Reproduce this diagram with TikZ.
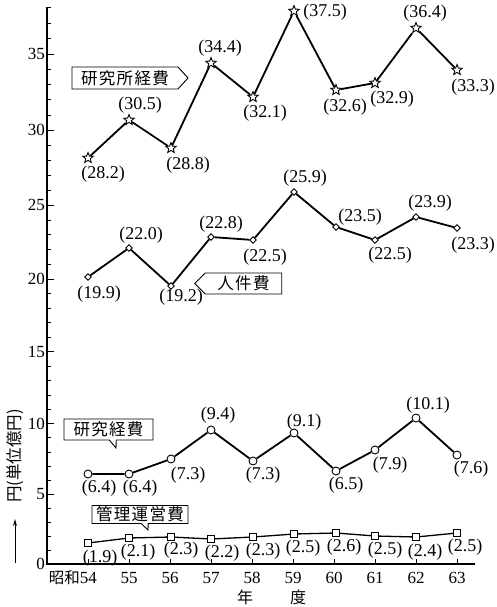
\documentclass[tikz,border=0pt]{standalone}
\usepackage{fontspec}
\setmainfont{Liberation Serif}
\newfontfamily\jp[LetterSpace=8]{Noto Sans CJK JP}
\newfontfamily\jpn{Noto Sans CJK JP}
\usetikzlibrary{shapes.geometric,shapes.symbols,shapes.callouts,arrows.meta}
\begin{document}
\begin{tikzpicture}[x=1pt,y=-1pt,
  declare function={ty(\v)=564-13.82*\v-0.0214*\v*\v;},
  axisline/.style={line width=1.3pt},
  series/.style={line width=1.8pt},
  thinseries/.style={line width=1.3pt},
  num/.style={font=\fontsize{18}{18}\selectfont, inner sep=0pt},
  ticknum/.style={font=\fontsize{17}{17}\selectfont, inner sep=0pt},
  starmark/.style={star, star points=5, star point ratio=2.3, minimum size=11pt, inner sep=0pt, draw, fill=white, line width=0.9pt},
  diamark/.style={diamond, minimum size=7pt, inner sep=0pt, draw, fill=white, line width=0.9pt},
  circmark/.style={circle, minimum size=8pt, inner sep=0pt, draw, fill=white, line width=0.9pt},
  sqmark/.style={rectangle, minimum size=7pt, inner sep=0pt, draw, fill=white, line width=0.9pt},
  tag/.style={draw, line width=0.9pt, inner sep=0pt, font=\fontsize{16.5}{16.5}\jp},
]
\useasboundingbox (0,0) rectangle (496,607);

% axes
\coordinate (ytop) at (47,7);
\coordinate (orig) at (47,564);
\coordinate (xend) at (475,564);
\draw[axisline] (ytop) -- (orig) -- (xend);
\foreach \v in {0,...,38} \draw[line width=0.9pt] (47,{ty(\v)}) -- ++(4,0);
\foreach \v in {0,5,...,35} {
  \draw[line width=1pt] (47,{ty(\v)}) -- ++(7,0);
  \node[ticknum, anchor=east] (yl\v) at (45,{ty(\v)}) {\v};
}
\foreach \i [evaluate=\i as \xx using 88+41.0*(\i-54)] in {54,...,63} {
  \draw[line width=0.9pt] (\xx,564) -- (\xx,559);
}
\foreach \i [evaluate=\i as \xx using 88+41.0*(\i-54)] in {55,...,63} {
  \node[ticknum] (xl\i) at (\xx,578) {\i};
}
\node[inner sep=0pt, anchor=east] (xl54) at (97,578) {\fontsize{15.5}{15.5}\jpn 昭和\fontsize{17}{17}\rmfamily 54};
\node[inner sep=0pt] (nen) at (245,597) {\fontsize{16}{16}\jpn 年};
\node[inner sep=0pt] (do) at (298,597) {\fontsize{16}{16}\jpn 度};

% y label
\coordinate (arrbot) at (15,563);
\coordinate (arrtop) at (15,519);
\draw[line width=1pt, -{Stealth[length=7pt,width=4pt]}] (arrbot) -- (arrtop);
\node[rotate=90, inner sep=0pt] (ylab) at (15,456) {\fontsize{16.5}{16.5}\jpn 円(単位億円)};

% series 1: stars
\foreach \n/\xx/\yy in {54/88/158,55/129/120,56/171/148,57/211/63,58/253/97,59/294/11,60/336/90,61/375/83,62/416/28,63/457/70}
  \node[starmark] (s\n) at (\xx,\yy) {};
\draw[series] (s54)--(s55)--(s56)--(s57)--(s58)--(s59)--(s60)--(s61)--(s62)--(s63);
\foreach \n/\xx/\yy/\t in {54/103/174/28.2,55/140/105/30.5,56/188/165/28.8,57/220/48/34.4,58/265/113/32.1,59/325/12/37.5,60/345/107/32.6,61/392/99/32.9,62/425/13/36.4,63/473/87/33.3}
  \node[num] (ls\n) at (\xx,\yy) {(\t)};

% series 2: diamonds
\foreach \n/\xx/\yy in {54/88/277,55/129/248,56/171/286,57/211/237,58/253/240,59/294/192,60/336/227,61/375/240,62/416/217,63/457/228}
  \node[diamark] (d\n) at (\xx,\yy) {};
\draw[series] (d54)--(d55)--(d56)--(d57)--(d58)--(d59)--(d60)--(d61)--(d62)--(d63);
\foreach \n/\xx/\yy/\t in {54/99/294/19.9,55/141/235/22.0,56/181/297/19.2,57/221/224/22.8,58/265/257/22.5,59/305/178/25.9,60/360/217/23.5,61/390/255/22.5,62/430/203/23.9,63/473/245/23.3}
  \node[num] (ld\n) at (\xx,\yy) {(\t)};

% series 3: circles
\foreach \n/\xx/\yy in {54/88/474,55/129/474,56/171/459,57/211/430,58/253/461,59/294/433,60/336/471,61/375/450,62/416/418,63/457/455}
  \node[circmark] (c\n) at (\xx,\yy) {};
\draw[series] (c54)--(c55)--(c56)--(c57)--(c58)--(c59)--(c60)--(c61)--(c62)--(c63);
\foreach \n/\xx/\yy/\t in {54/99/488/6.4,55/140/488/6.4,56/188/475/7.3,57/218/415/9.4,58/263/475/7.3,59/304/422/9.1,60/346/485/6.5,61/390/465/7.9,62/428/405/10.1,63/471/469/7.6}
  \node[num] (lc\n) at (\xx,\yy) {(\t)};

% series 4: squares
\foreach \n/\xx/\yy in {54/88/543,55/129/538,56/171/537,57/211/539,58/253/537,59/294/534,60/336/533,61/375/536,62/416/537,63/457/533}
  \node[sqmark] (q\n) at (\xx,\yy) {};
\draw[thinseries] (q54)--(q55)--(q56)--(q57)--(q58)--(q59)--(q60)--(q61)--(q62)--(q63);
\foreach \n/\xx/\yy/\t in {54/100/558/1.9,55/138/552/2.1,56/181/550/2.3,57/222/553/2.2,58/263/551/2.3,59/303/548/2.5,60/344/547/2.6,61/385/550/2.5,62/425/552/2.4,63/465/547/2.5}
  \node[num] (lq\n) at (\xx,\yy) {(\t)};

% tags
\node[tag, signal, signal to=east, signal pointer angle=95, minimum width=116pt, minimum height=22pt] (t1) at (125,78) {研究所経費};
\node[tag, signal, signal to=west, signal pointer angle=90, minimum width=87pt, minimum height=21pt] (t2) at (243.5,283.5) {人件費};
\node[tag, rectangle callout, callout absolute pointer={(116,448)}, callout pointer width=7pt, minimum width=89pt, minimum height=21pt] (t3) at (108.5,429.5) {研究経費};
\node[tag, rectangle callout, callout absolute pointer={(148,530)}, callout pointer width=7pt, minimum width=96pt, minimum height=18pt] (t4) at (140,514.5) {管理運営費};
\end{tikzpicture}
\end{document}
